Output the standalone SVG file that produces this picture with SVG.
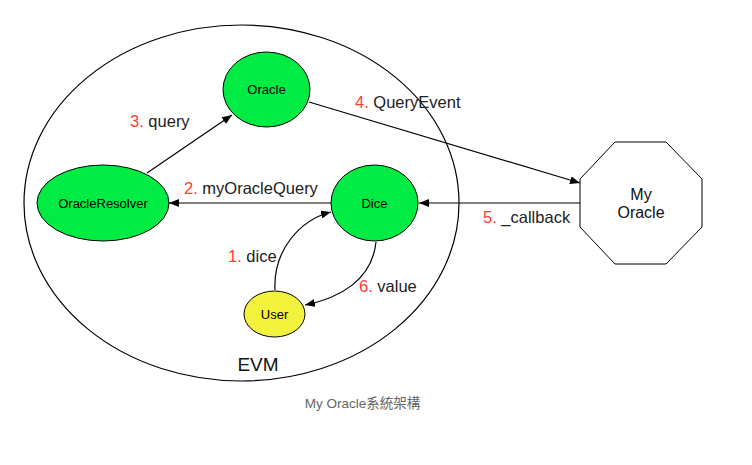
<svg xmlns="http://www.w3.org/2000/svg" width="752" height="465" viewBox="0 0 752 465">
<defs>
<marker id="arr" viewBox="0 0 10 8" refX="10" refY="4" markerWidth="10" markerHeight="8" markerUnits="userSpaceOnUse" orient="auto">
<path d="M0,0 L10,4 L0,8 Z" fill="#000"/>
</marker>
</defs>
<style>
.n{stroke:#000;stroke-width:1}
.g{fill:#00eb44}
.nt{font-family:"Liberation Sans",Arial,sans-serif;font-size:13px;text-anchor:middle;fill:#000}
.lb{font-family:"Liberation Sans",Arial,sans-serif;font-size:16.5px;fill:#222}
.r{fill:#ff3b30}
.c{fill:none;stroke:#000;stroke-width:1.2}
</style>
<rect width="752" height="465" fill="#fff"/>
<g id="evm">
<ellipse cx="241.5" cy="203" rx="217.5" ry="178" fill="none" stroke="#000" stroke-width="1.2"/>
<text x="258" y="371" font-family="'Liberation Sans',Arial,sans-serif" font-size="19" text-anchor="middle" fill="#111">EVM</text>
</g>
<g id="oracle">
<ellipse class="n g" cx="266.5" cy="89.5" rx="43.5" ry="37.5"/>
<text class="nt" x="266.5" y="94">Oracle</text>
</g>
<g id="oracleresolver">
<ellipse class="n g" cx="103" cy="203" rx="66" ry="38"/>
<text class="nt" x="103" y="207.5">OracleResolver</text>
</g>
<g id="dice">
<ellipse class="n g" cx="374.5" cy="203" rx="43.5" ry="38"/>
<text class="nt" x="374.5" y="207.5">Dice</text>
</g>
<g id="user">
<ellipse class="n" fill="#f2f23c" cx="274.5" cy="314" rx="30.5" ry="23"/>
<text class="nt" x="274.5" y="318.5">User</text>
</g>
<g id="myoracle">
<polygon points="615,142 666,142 702,179 702,227 666,264 615,264 580,227 580,179" fill="#fff" stroke="#000" stroke-width="1"/>
<text x="641" y="200" font-family="'Liberation Sans',Arial,sans-serif" font-size="16" text-anchor="middle" fill="#111">My</text>
<text x="641" y="218" font-family="'Liberation Sans',Arial,sans-serif" font-size="16" text-anchor="middle" fill="#111">Oracle</text>
</g>
<g id="connectors">
<line class="c" x1="147" y1="173" x2="232" y2="115" marker-end="url(#arr)"/>
<line class="c" x1="331" y1="203" x2="169" y2="203" marker-end="url(#arr)"/>
<line class="c" x1="309" y1="102" x2="580" y2="183" marker-end="url(#arr)"/>
<line class="c" x1="580" y1="203" x2="419" y2="203" marker-end="url(#arr)"/>
<path class="c" d="M275,290 C273,250 300,220 331,212" marker-end="url(#arr)"/>
<path class="c" d="M376,242 C372,280 340,298 305,305" marker-end="url(#arr)"/>
</g>
<g id="labels">
<text class="lb" x="130" y="127"><tspan class="r">3.</tspan> query</text>
<text class="lb" x="355" y="108"><tspan class="r">4.</tspan> QueryEvent</text>
<text class="lb" x="184" y="194"><tspan class="r">2.</tspan> myOracleQuery</text>
<text class="lb" x="483" y="223"><tspan class="r">5.</tspan> _callback</text>
<text class="lb" x="228" y="262"><tspan class="r">1.</tspan> dice</text>
<text class="lb" x="359" y="292"><tspan class="r">6.</tspan> value</text>
</g>
<text x="362.5" y="408" font-family="'Liberation Sans','Noto Sans CJK TC',sans-serif" font-size="13.5" text-anchor="middle" fill="#666">My Oracle系統架構</text>
</svg>
